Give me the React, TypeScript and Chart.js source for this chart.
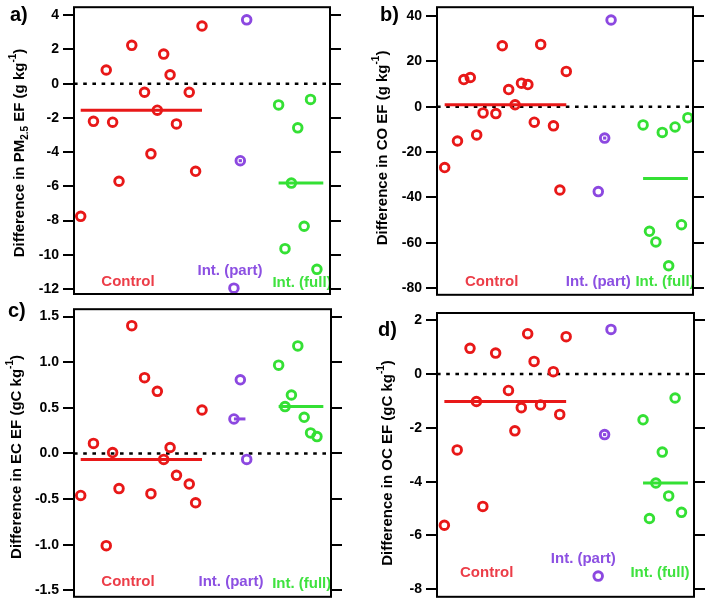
import React, { useEffect, useRef } from "react";
import { Chart, registerables } from "chart.js";
Chart.register(...registerables);

const FONT = '"Liberation Sans", Arial, Helvetica, sans-serif';
const RED = "#e81818";
const PURPLE = "#8c48e0";
const GREEN = "#34e034";
const RED_TXT = "#ec3d48";
const PURPLE_TXT = "#8c50e2";
const GREEN_TXT = "#3fe23f";

const GROUP_NAMES = ["Control", "Int. (part)", "Int. (full)"];

// sample positions along x (index)
const CONTROL_X = [0, 2, 4, 5, 6, 8, 10, 11, 12, 13, 14, 15, 17, 18, 19];
const CONTROL_X_CO = [0, 2, 3, 4, 5, 6, 8, 9, 10, 11, 12, 13, 14, 15, 17, 18, 19];
const PART_X = [24, 25, 26];
const FULL_X = [31, 32, 33, 34, 35, 36, 37];
const FULL_X_CO = [31, 32, 33, 34, 35, 36, 37, 38];

// a) PM2.5 EF differences (g/kg)
const PM25_CONTROL = [-7.75, -2.2, 0.8, -2.25, -5.7, 2.24, -0.5, -4.1, -1.55, 1.73, 0.52, -2.35, -0.5, -5.12, 3.37];
const PM25_PART = [-11.95, -4.5, 3.73];
const PM25_FULL = [-1.24, -9.64, -5.81, -2.58, -8.33, -0.92, -10.85];
const PM25_TICKS = [-12, -10, -8, -6, -4, -2, 0, 2, 4];

// b) CO EF differences (g/kg)
const CO_CONTROL = [-26.8, -15.1, 12, 12.9, -12.4, -2.7, -3.0, 26.9, 7.6, 0.9, 10.4, 9.8, -6.8, 27.5, -8.4, -36.7, 15.6];
const CO_PART = [-37.4, -13.8, 38.25];
const CO_FULL = [-8, -54.9, -59.6, -11.3, -70.1, -8.9, -52, -4.8];
const CO_TICKS = [-80, -60, -40, -20, 0, 20, 40];

// c) EC EF differences (gC/kg)
const EC_CONTROL = [-0.46, 0.11, -1.01, 0.01, -0.385, 1.4, 0.83, -0.44, 0.68, -0.065, 0.065, -0.24, -0.335, -0.54, 0.476];
const EC_PART = [0.378, 0.807, -0.065];
const EC_FULL = [0.967, 0.513, 0.64, 1.178, 0.396, 0.225, 0.185];
const EC_TICKS = [-1.5, -1.0, -0.5, 0.0, 0.5, 1.0, 1.5];

// d) OC EF differences (gC/kg)
const OC_CONTROL = [-5.62, -2.82, 0.955, -1.02, -4.92, 0.78, -0.61, -2.11, -1.25, 1.5, 0.47, -1.15, 0.09, -1.5, 1.39];
const OC_PART = [-7.51, -2.25, 1.66];
const OC_FULL = [-1.7, -5.37, -4.05, -2.9, -4.53, -0.89, -5.14];
const OC_TICKS = [-8, -6, -4, -2, 0, 2];

// median bar extents (x, sample index)
const CONTROL_SEG = [0, 19];
const PART_SEG = [24.75, 25.25];
const PART_SEG_EC = [24, 25.8];
const FULL_SEG = [31, 38];

function median(v: number[]) {
  const s = [...v].sort((a, b) => a - b);
  const n = s.length;
  return n % 2 ? s[(n - 1) / 2] : (s[n / 2 - 1] + s[n / 2]) / 2;
}

type Part = { t: string; k: "n" | "sub" | "sup" };

interface Spec {
  letter: string;
  title: Part[];
  control: number[];
  controlX: number[];
  part: number[];
  full: number[];
  fullX: number[];
  partSeg: number[];
  ticks: number[];
  decimals: number;
  ymin: number;
  ymax: number;
  xmin: number;
  xmax: number;
  left: number;
  top: number;
  w: number;
  h: number;
  leftW: number;
  rightW: number;
  padTop: number;
  padBottom: number;
  titleX: number;
  titleY: number;
  letterX: number;
  letterY: number;
  labelPos: number[][];
}

const SPECS: Spec[] = [
  {
    letter: "a)",
    title: [
      { t: "Difference in PM", k: "n" },
      { t: "2.5", k: "sub" },
      { t: " EF (g kg", k: "n" },
      { t: "-1", k: "sup" },
      { t: ")", k: "n" },
    ],
    control: PM25_CONTROL, controlX: CONTROL_X, part: PM25_PART, full: PM25_FULL, fullX: FULL_X,
    partSeg: PART_SEG, ticks: PM25_TICKS, decimals: 0,
    ymin: -12.29, ymax: 4.47, xmin: -1.05, xmax: 39.05,
    left: 0, top: 0, w: 354, h: 302, leftW: 74, rightW: 24, padTop: 7, padBottom: 8,
    titleX: 20, titleY: 153, letterX: 10, letterY: 15,
    labelPos: [[54, 12], [156, 23], [228, 11]],
  },
  {
    letter: "b)",
    title: [
      { t: "Difference in CO EF (g kg", k: "n" },
      { t: "-1", k: "sup" },
      { t: ")", k: "n" },
    ],
    control: CO_CONTROL, controlX: CONTROL_X_CO, part: CO_PART, full: CO_FULL, fullX: FULL_X_CO,
    partSeg: PART_SEG, ticks: CO_TICKS, decimals: 0,
    ymin: -82.9, ymax: 43.9, xmin: -1.2, xmax: 38.8,
    left: 354, top: 0, w: 355, h: 302, leftW: 83, rightW: 16, padTop: 6, padBottom: 6,
    titleX: 29, titleY: 148, letterX: 26, letterY: 15,
    labelPos: [[54.7, 13.3], [161.3, 13.3], [228, 13]],
  },
  {
    letter: "c)",
    title: [
      { t: "Difference in EC EF (gC kg", k: "n" },
      { t: "-1", k: "sup" },
      { t: ")", k: "n" },
    ],
    control: EC_CONTROL, controlX: CONTROL_X, part: EC_PART, full: EC_FULL, fullX: FULL_X,
    partSeg: PART_SEG_EC, ticks: EC_TICKS, decimals: 1,
    ymin: -1.57, ymax: 1.58, xmin: -1.05, xmax: 39.2,
    left: 0, top: 302, w: 354, h: 302, leftW: 74, rightW: 23, padTop: 7, padBottom: 6,
    titleX: 17, titleY: 155, letterX: 8, letterY: 9,
    labelPos: [[54, 14.7], [157, 15], [227.7, 13]],
  },
  {
    letter: "d)",
    title: [
      { t: "Difference in OC EF (gC kg", k: "n" },
      { t: "-1", k: "sup" },
      { t: ")", k: "n" },
    ],
    control: OC_CONTROL, controlX: CONTROL_X, part: OC_PART, full: OC_FULL, fullX: FULL_X,
    partSeg: PART_SEG, ticks: OC_TICKS, decimals: 0,
    ymin: -8.28, ymax: 2.27, xmin: -1.15, xmax: 38.95,
    left: 354, top: 302, w: 355, h: 302, leftW: 83, rightW: 15, padTop: 11, padBottom: 2,
    titleX: 34, titleY: 161, letterX: 24, letterY: 28,
    labelPos: [[49.7, 24.4], [146.3, 37.7], [223, 24.4]],
  },
];

function drawRich(ctx: CanvasRenderingContext2D, parts: Part[], cx: number, cy: number, size: number) {
  const small = Math.round(size * 0.66);
  ctx.save();
  ctx.translate(cx, cy);
  ctx.rotate(-Math.PI / 2);
  ctx.fillStyle = "#000";
  ctx.textBaseline = "middle";
  ctx.textAlign = "left";
  const widths = parts.map((p) => {
    ctx.font = `bold ${p.k === "n" ? size : small}px ${FONT}`;
    return ctx.measureText(p.t).width;
  });
  const total = widths.reduce((a, b) => a + b, 0);
  let x = -total / 2;
  parts.forEach((p, i) => {
    ctx.font = `bold ${p.k === "n" ? size : small}px ${FONT}`;
    const dy = p.k === "sub" ? size * 0.32 : p.k === "sup" ? -size * 0.42 : 0;
    ctx.fillText(p.t, x, dy);
    x += widths[i];
  });
  ctx.restore();
}

function makeConfig(s: Spec): any {
  const pts = (xs: number[], ys: number[]) => ys.map((y, i) => ({ x: xs[i], y }));
  const seg = (xs: number[], y: number) => [{ x: xs[0], y }, { x: xs[1], y }];
  const groups = [
    { xs: s.controlX, ys: s.control, seg: CONTROL_SEG, color: RED },
    { xs: PART_X, ys: s.part, seg: s.partSeg, color: PURPLE },
    { xs: s.fullX, ys: s.full, seg: FULL_SEG, color: GREEN },
  ];
  const datasets: any[] = [
    {
      type: "line",
      data: [{ x: s.xmin, y: 0 }, { x: s.xmax, y: 0 }],
      borderColor: "#000",
      borderWidth: 2.6,
      borderDash: [3.6, 5.6],
      pointRadius: 0,
      order: 3,
      clip: false,
    },
  ];
  groups.forEach((g) => {
    datasets.push({
      type: "line",
      data: seg(g.seg, median(g.ys)),
      borderColor: g.color,
      borderWidth: 3,
      pointRadius: 0,
      order: 2,
      clip: false,
    });
  });
  groups.forEach((g) => {
    datasets.push({
      type: "scatter",
      data: pts(g.xs, g.ys),
      pointStyle: "circle",
      pointRadius: 4.3,
      pointBorderWidth: 2.9,
      pointBorderColor: g.color,
      pointBackgroundColor: "rgba(0,0,0,0)",
      borderColor: g.color,
      backgroundColor: "rgba(0,0,0,0)",
      order: 1,
      clip: false,
    });
  });

  const labelColors = [RED_TXT, PURPLE_TXT, GREEN_TXT];

  const decor = {
    id: "decor",
    afterDatasetsDraw(chart: any) {
      const { ctx, chartArea } = chart;
      ctx.save();
      ctx.font = `bold 15px ${FONT}`;
      ctx.textAlign = "center";
      ctx.textBaseline = "middle";
      GROUP_NAMES.forEach((name, i) => {
        ctx.fillStyle = labelColors[i];
        ctx.fillText(name, chartArea.left + s.labelPos[i][0], chartArea.bottom - s.labelPos[i][1]);
      });
      ctx.restore();
    },
    afterDraw(chart: any) {
      const { ctx, chartArea } = chart;
      ctx.save();
      ctx.strokeStyle = "#000";
      ctx.lineWidth = 2;
      ctx.strokeRect(chartArea.left, chartArea.top, chartArea.right - chartArea.left, chartArea.bottom - chartArea.top);
      ctx.fillStyle = "#000";
      ctx.font = `bold 20px ${FONT}`;
      ctx.textAlign = "left";
      ctx.textBaseline = "middle";
      ctx.fillText(s.letter, s.letterX, s.letterY);
      ctx.restore();
      drawRich(ctx, s.title, s.titleX, s.titleY, 15);
    },
  };

  const yBase = (pos: string, width: number, showLabels: boolean) => ({
    type: "linear",
    position: pos,
    min: s.ymin,
    max: s.ymax,
    afterBuildTicks: (sc: any) => {
      sc.ticks = s.ticks.map((v) => ({ value: v }));
    },
    afterFit: (sc: any) => {
      sc.width = width;
      sc.paddingTop = 0;
      sc.paddingBottom = 0;
      sc.paddingLeft = 0;
      sc.paddingRight = 0;
    },
    ticks: {
      autoSkip: false,
      includeBounds: false,
      color: "#000",
      padding: 4,
      font: { family: FONT, size: 14, weight: "bold" },
      callback: (v: number) => (showLabels ? (s.decimals ? v.toFixed(s.decimals) : String(v)) : ""),
    },
    grid: {
      drawOnChartArea: false,
      drawTicks: true,
      tickLength: 11,
      lineWidth: 2,
      color: "#000",
    },
    border: { display: false },
  });

  return {
    type: "scatter",
    data: { datasets },
    options: {
      animation: false,
      responsive: false,
      devicePixelRatio: 1,
      layout: { padding: { left: 0, right: 0, top: s.padTop, bottom: s.padBottom } },
      plugins: { legend: { display: false }, tooltip: { enabled: false }, title: { display: false } },
      scales: {
        x: { type: "linear", min: s.xmin, max: s.xmax, display: false },
        y: yBase("left", s.leftW, true),
        y2: yBase("right", s.rightW, false),
      },
    },
    plugins: [decor],
  };
}

function Panel({ spec }: { spec: Spec }) {
  const ref = useRef<HTMLCanvasElement>(null);
  useEffect(() => {
    const chart = new Chart(ref.current as HTMLCanvasElement, makeConfig(spec));
    return () => chart.destroy();
  }, [spec]);
  return (
    <canvas
      ref={ref}
      width={spec.w}
      height={spec.h}
      style={{ position: "absolute", left: spec.left, top: spec.top, width: spec.w, height: spec.h }}
    />
  );
}

export default function App() {
  return (
    <div style={{ position: "fixed", left: 0, top: 0, width: 709, height: 604, background: "#fff", overflow: "hidden" }}>
      {SPECS.map((s) => (
        <Panel key={s.letter} spec={s} />
      ))}
    </div>
  );
}
